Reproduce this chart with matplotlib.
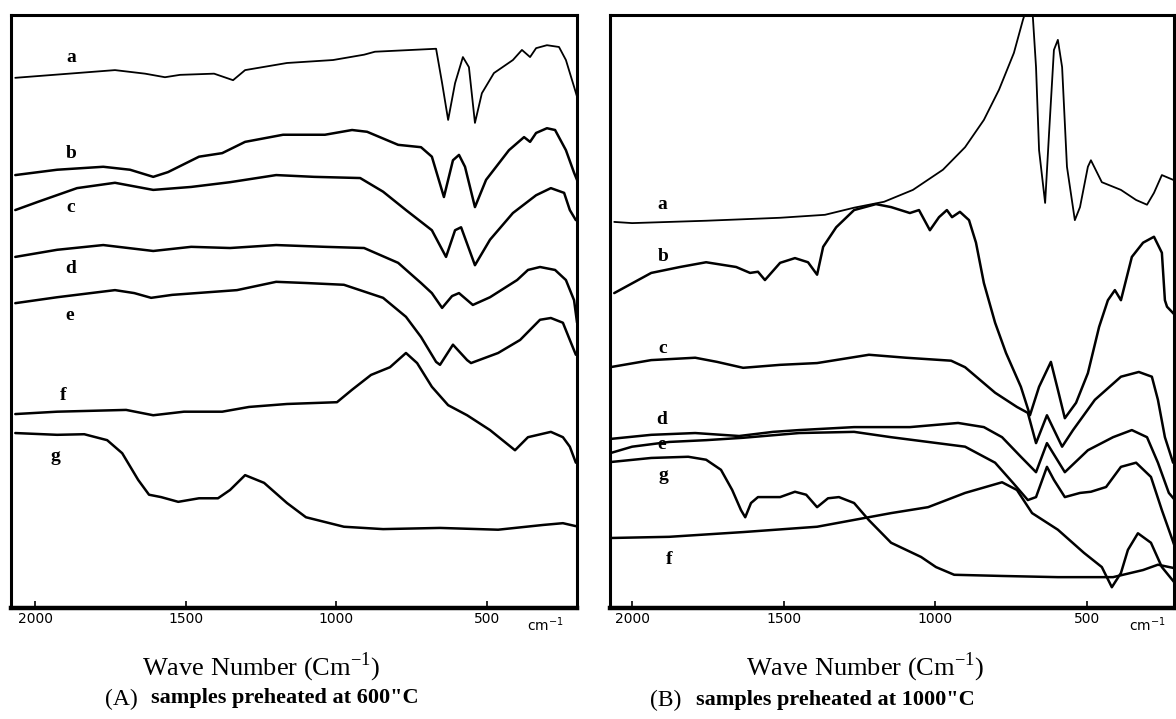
import matplotlib
matplotlib.use("Agg")
import matplotlib.pyplot as plt
import matplotlib.transforms as mtransforms

# ---- panel A: samples preheated at 600 C  (wavenumber, transmittance-like units)
A_a_x = [2066, 1735, 1635, 1569, 1519, 1406, 1343, 1303, 1164, 1011, 908, 872, 669, 649, 629, 606, 580, 560, 540, 517, 477, 414, 384, 357, 337, 301, 261, 238, 211, 198]
A_a_y = [89.4, 90.7, 90.1, 89.5, 89.9, 90.1, 89.0, 90.7, 91.9, 92.4, 93.3, 93.8, 94.3, 88.5, 82.3, 88.5, 92.9, 91.2, 81.8, 86.8, 90.2, 92.4, 94.1, 92.9, 94.4, 94.9, 94.6, 92.4, 87.9, 85.7]
A_b_x = [2066, 1927, 1774, 1685, 1608, 1559, 1456, 1379, 1303, 1177, 1038, 948, 898, 795, 719, 683, 643, 613, 593, 573, 540, 503, 427, 377, 357, 337, 301, 274, 238, 211, 198]
A_b_y = [73.0, 73.9, 74.4, 73.9, 72.7, 73.5, 76.1, 76.7, 78.6, 79.8, 79.8, 80.6, 80.3, 78.1, 77.7, 76.1, 69.3, 75.5, 76.4, 74.4, 67.6, 72.2, 77.2, 79.4, 78.6, 80.1, 80.9, 80.6, 77.2, 73.4, 71.8]
A_c_x = [2066, 1990, 1861, 1735, 1608, 1482, 1353, 1200, 1074, 921, 845, 769, 683, 636, 606, 586, 540, 490, 414, 337, 288, 244, 225, 205]
A_c_y = [67.1, 68.5, 70.8, 71.7, 70.5, 71.0, 71.8, 73.0, 72.7, 72.5, 70.2, 67.1, 63.7, 59.2, 63.7, 64.2, 57.8, 62.1, 66.6, 69.6, 70.8, 70.0, 67.1, 65.4]
A_d_x = [2066, 1927, 1774, 1608, 1482, 1353, 1200, 1038, 908, 795, 719, 683, 649, 616, 593, 547, 490, 400, 364, 324, 274, 238, 211, 201]
A_d_y = [59.2, 60.4, 61.2, 60.2, 60.9, 60.7, 61.2, 60.9, 60.7, 58.2, 54.8, 53.1, 50.6, 52.6, 53.1, 51.1, 52.4, 55.3, 57.0, 57.5, 57.0, 55.3, 51.9, 48.1]
A_e_x = [2066, 1927, 1735, 1671, 1615, 1545, 1330, 1200, 1101, 975, 845, 769, 719, 669, 656, 613, 566, 553, 463, 390, 324, 288, 248, 225, 205]
A_e_y = [51.4, 52.4, 53.6, 53.1, 52.3, 52.8, 53.6, 55.0, 54.8, 54.5, 52.3, 49.1, 45.7, 41.5, 41.0, 44.4, 41.8, 41.3, 43.0, 45.2, 48.6, 48.9, 48.1, 45.2, 42.7]
A_f_x = [2066, 1927, 1698, 1608, 1506, 1379, 1290, 1164, 998, 948, 885, 822, 769, 732, 683, 629, 566, 490, 407, 364, 288, 248, 225, 205]
A_f_y = [32.7, 33.1, 33.4, 32.5, 33.1, 33.1, 33.9, 34.4, 34.7, 36.8, 39.3, 40.6, 43.0, 41.3, 37.3, 34.2, 32.5, 30.0, 26.6, 28.8, 29.7, 28.8, 27.2, 24.5]
A_g_x = [2066, 1927, 1837, 1761, 1711, 1658, 1622, 1582, 1525, 1456, 1393, 1353, 1303, 1240, 1164, 1101, 975, 845, 656, 463, 314, 248, 205]
A_g_y = [29.5, 29.2, 29.3, 28.3, 26.1, 21.6, 19.1, 18.7, 17.9, 18.5, 18.5, 19.9, 22.4, 21.1, 17.7, 15.3, 13.7, 13.3, 13.5, 13.2, 14.0, 14.3, 13.8]

# ---- panel B: samples preheated at 1000 C
B_a_x = [2059, 2000, 1756, 1512, 1364, 1268, 1169, 1074, 975, 902, 840, 790, 741, 711, 695, 681, 668, 658, 638, 625, 609, 596, 582, 566, 540, 523, 497, 487, 451, 388, 338, 302, 279, 253, 216]
B_a_y = [65.1, 64.9, 65.3, 65.8, 66.3, 67.5, 68.5, 70.5, 73.9, 77.7, 82.3, 87.4, 93.6, 99.2, 101.7, 101.7, 91.2, 77.2, 68.3, 80.1, 94.1, 95.8, 91.2, 74.4, 65.4, 67.6, 74.4, 75.5, 71.8, 70.5, 68.8, 68.0, 70.0, 73.0, 72.2]
B_b_x = [2059, 1937, 1842, 1756, 1657, 1611, 1585, 1562, 1512, 1463, 1420, 1390, 1370, 1327, 1268, 1196, 1146, 1084, 1054, 1018, 988, 962, 945, 919, 889, 866, 840, 803, 767, 718, 688, 658, 619, 596, 573, 536, 497, 460, 431, 408, 388, 352, 315, 279, 253, 243, 236, 210]
B_b_y = [53.1, 56.5, 57.5, 58.3, 57.5, 56.5, 56.7, 55.3, 58.2, 59.0, 58.3, 56.2, 60.9, 64.2, 67.1, 68.1, 67.6, 66.6, 67.1, 63.7, 65.9, 67.1, 65.9, 66.8, 65.4, 61.6, 54.8, 48.1, 43.0, 37.3, 32.5, 37.3, 41.5, 36.8, 32.0, 34.6, 39.6, 47.4, 51.9, 53.6, 51.9, 59.2, 61.6, 62.6, 59.9, 51.9, 50.8, 49.4]
B_c_x = [2073, 1937, 1792, 1720, 1634, 1512, 1390, 1219, 1097, 948, 902, 803, 731, 695, 668, 632, 582, 546, 474, 388, 329, 286, 266, 243, 216]
B_c_y = [40.6, 41.8, 42.2, 41.5, 40.5, 41.0, 41.3, 42.7, 42.2, 41.7, 40.6, 36.3, 33.9, 32.9, 27.8, 32.5, 27.2, 30.0, 35.1, 39.0, 39.8, 39.0, 35.1, 28.8, 24.5]
B_d_x = [2073, 1937, 1792, 1647, 1535, 1449, 1268, 1084, 925, 840, 780, 718, 668, 632, 573, 497, 414, 352, 302, 266, 230, 210]
B_d_y = [28.5, 29.2, 29.5, 29.0, 29.7, 30.0, 30.5, 30.5, 31.2, 30.5, 28.8, 25.5, 22.9, 27.8, 22.9, 26.6, 28.8, 30.0, 28.8, 24.5, 19.4, 18.2]
B_e_x = [2073, 2000, 1878, 1756, 1634, 1449, 1268, 1146, 1024, 902, 803, 744, 695, 668, 632, 609, 573, 523, 487, 437, 388, 338, 289, 253, 210]
B_e_y = [26.1, 27.2, 28.0, 28.3, 28.7, 29.5, 29.7, 28.8, 28.0, 27.2, 24.5, 21.1, 18.2, 18.7, 23.8, 21.6, 18.7, 19.4, 19.6, 20.4, 23.8, 24.5, 22.1, 16.5, 10.3]
B_f_x = [2073, 1878, 1634, 1390, 1146, 1024, 902, 780, 731, 681, 596, 510, 451, 418, 388, 365, 332, 289, 253, 210]
B_f_y = [11.8, 12.0, 12.8, 13.7, 16.0, 17.0, 19.4, 21.2, 19.9, 16.0, 13.2, 9.3, 6.9, 3.5, 5.9, 9.8, 12.6, 11.0, 6.9, 4.2]
B_g_x = [2073, 1937, 1815, 1756, 1707, 1670, 1641, 1627, 1608, 1585, 1512, 1463, 1426, 1390, 1354, 1318, 1268, 1219, 1146, 1047, 998, 938, 780, 596, 414, 315, 266, 210]
B_g_y = [24.6, 25.3, 25.5, 25.0, 23.3, 19.9, 16.5, 15.3, 17.7, 18.7, 18.7, 19.6, 19.1, 17.0, 18.5, 18.7, 17.7, 14.8, 11.0, 8.6, 6.9, 5.6, 5.4, 5.2, 5.2, 6.4, 7.3, 6.7]

curve_names = ["a", "b", "c", "d", "e", "f", "g"]
A_label_pos = [(1881, 92.9), (1881, 76.7), (1881, 67.6), (1881, 57.3), (1887, 49.4), (1907, 35.9), (1934, 25.5)]
B_label_pos = [(1901, 68.0), (1898, 59.2), (1898, 43.8), (1901, 31.7), (1901, 27.5), (1878, 8.1), (1898, 22.4)]

tick_vals = [2000, 1500, 1000, 500]
tick_text = ["2000", "1500", "1000", "500"]

A_curves = [(A_a_x, A_a_y), (A_b_x, A_b_y), (A_c_x, A_c_y), (A_d_x, A_d_y), (A_e_x, A_e_y), (A_f_x, A_f_y), (A_g_x, A_g_y)]
B_curves = [(B_a_x, B_a_y), (B_b_x, B_b_y), (B_c_x, B_c_y), (B_d_x, B_d_y), (B_e_x, B_e_y), (B_f_x, B_f_y), (B_g_x, B_g_y)]

fig = plt.figure(figsize=(11.76, 7.19), dpi=100)

def draw_panel(rect, curves, label_pos, xlim, cm_x, title_x):
    ax = fig.add_axes(rect)
    for i, (x, y) in enumerate(curves):
        lw = 1.3 if i == 0 else 1.8
        ax.plot(x, y, color="k", lw=lw, solid_joinstyle="round", solid_capstyle="round")
    for name, (lx, ly) in zip(curve_names, label_pos):
        ax.text(lx, ly, name, family="Liberation Serif", fontsize=14,
                fontweight="bold", ha="center", va="center")
    ax.set_xlim(*xlim)
    ax.set_ylim(0, 100)
    ax.set_yticks([])
    ax.set_xticks(tick_vals)
    ax.set_xticklabels(tick_text, family="DejaVu Sans", fontsize=10)
    ax.tick_params(axis="x", direction="in", length=5, width=1.2, pad=3)
    for side in ["left", "right", "top"]:
        ax.spines[side].set_linewidth(2.2)
    ax.spines["bottom"].set_linewidth(3.2)
    trans = mtransforms.blended_transform_factory(ax.transData, ax.transAxes)
    ax.text(cm_x, -0.012, "cm$^{-1}$", transform=trans, ha="center", va="top",
            family="DejaVu Sans", fontsize=10)
    ax.text(title_x, -0.072, r"Wave Number (Cm$^{\mathregular{-1}}$)", transform=trans,
            ha="center", va="top", family="Liberation Serif", fontsize=19)
    return ax

axA = draw_panel([0.0094, 0.1544, 0.4813, 0.8248], A_curves, A_label_pos, (2080, 201), 305, 1250)
axB = draw_panel([0.5187, 0.1544, 0.4796, 0.8248], B_curves, B_label_pos, (2073, 213), 300, 1230)

fig.text(0.089, 0.020, "(A)", family="Liberation Serif", fontsize=17, ha="left", va="baseline")
fig.text(0.128, 0.022, 'samples preheated at 600"C', family="Liberation Serif", fontsize=16,
         fontweight="bold", ha="left", va="baseline")
fig.text(0.553, 0.018, "(B)", family="Liberation Serif", fontsize=17, ha="left", va="baseline")
fig.text(0.592, 0.020, 'samples preheated at 1000"C', family="Liberation Serif", fontsize=16,
         fontweight="bold", ha="left", va="baseline")

fig.savefig("out.png", dpi=100, facecolor="white")
